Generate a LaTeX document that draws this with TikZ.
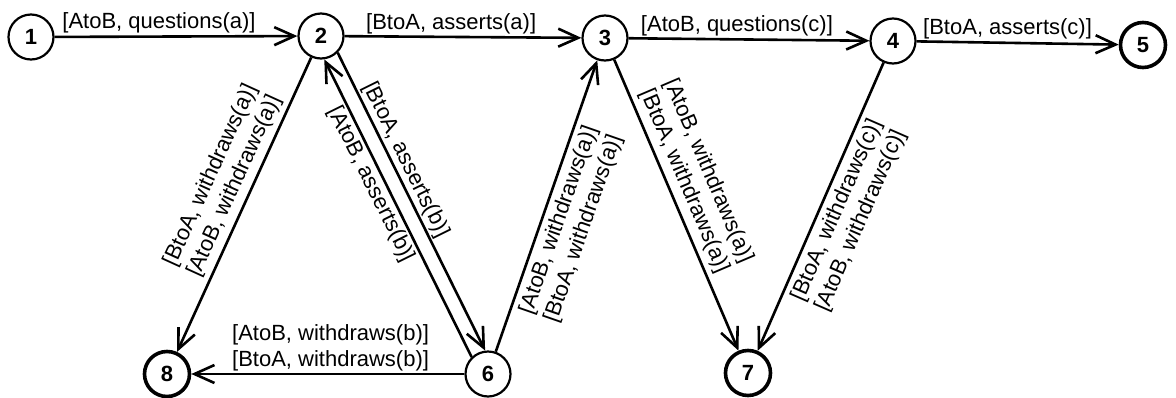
\documentclass[tikz,border=0pt]{standalone}
\usepackage{fontspec}
\setmainfont{Liberation Sans}
\usetikzlibrary{arrows.meta}
\begin{document}
\begin{tikzpicture}[x=1pt,y=-1pt,
  st/.style={circle, draw, line width=2.2pt, minimum size=45pt, inner sep=0pt,
    font=\fontsize{22}{24}\selectfont\bfseries},
  fin/.style={st, line width=3.6pt},
  arr/.style={line width=2.6pt, -{Straight Barb[length=20pt,width=18pt]}},
  lab/.style={font=\fontsize{22}{26}\selectfont, inner sep=2pt, align=center},
]
\useasboundingbox (0,0) rectangle (1176,397);
\node[st]  (n1) at (31,37)   {1};
\node[st]  (n2) at (321,36)  {2};
\node[st]  (n3) at (605,38)  {3};
\node[st]  (n4) at (893,41)  {4};
\node[fin] (n5) at (1143,45) {5};
\node[st]  (n6) at (488,374) {6};
\node[fin] (n7) at (748,373) {7};
\node[fin] (n8) at (167,374) {8};

\draw[arr] (n1) -- node[lab, pos=0.43, above] {[AtoB, questions(a)]} (n2);
\draw[arr] (n2) -- node[lab, pos=0.45, above] {[BtoA, asserts(a)]} (n3);
\draw[arr] (n3) -- node[lab, pos=0.45, above] {[AtoB, questions(c)]} (n4);
\draw[arr] (n4) -- node[lab, pos=0.45, above] {[BtoA, asserts(c)]} (n5);

\draw[arr] (n2) -- node[lab, pos=0.46, sloped, above=3pt] {[BtoA, withdraws(a)]\\{}[AtoB, withdraws(a)]} (n8);
\draw[arr] (n2.-45.3) -- node[lab, pos=0.38, sloped, above] {[BtoA, asserts(b)]} (n6.97.7);
\draw[arr] (n6.134.7) -- node[lab, pos=0.6, sloped, below] {[AtoB, asserts(b)]} (n2.-82.3);
\draw[arr] (n6) -- node[lab, pos=0.47, sloped, below=3pt] {[AtoB, withdraws(a)]\\{}[BtoA, withdraws(a)]} (n3);
\draw[arr] (n3) -- node[lab, pos=0.44, sloped, above=3pt] {[AtoB, withdraws(a)]\\{}[BtoA, withdraws(a)]} (n7);
\draw[arr] (n4) -- node[lab, pos=0.49, sloped, below=3pt] {[BtoA, withdraws(c)]\\{}[AtoB, withdraws(c)]} (n7);
\draw[arr] (n6) -- node[lab, pos=0.49, above] {[AtoB, withdraws(b)]\\{}[BtoA, withdraws(b)]} (n8);
\end{tikzpicture}
\end{document}
